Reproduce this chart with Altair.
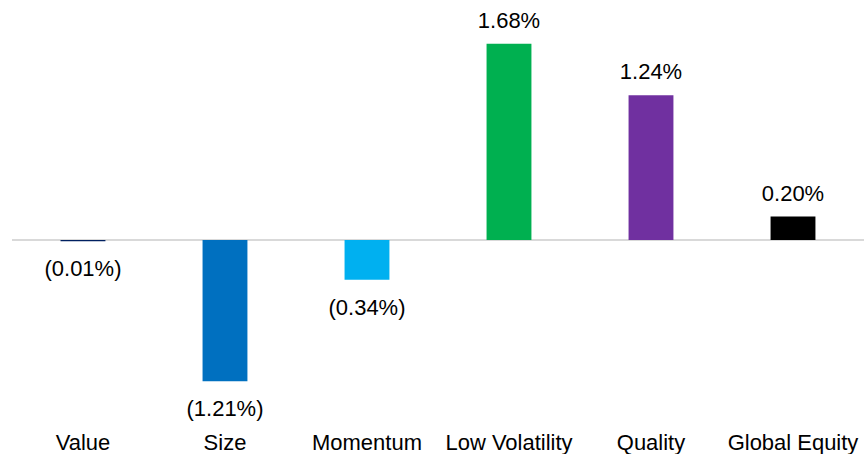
import altair as alt
import pandas as pd

# Factor returns (%)
factors = ["Value", "Size", "Momentum", "Low Volatility", "Quality", "Global Equity"]
returns = [-0.01, -1.21, -0.34, 1.68, 1.24, 0.20]
colors = ["#002060", "#0070C0", "#00B0F0", "#00B050", "#7030A0", "#000000"]

df = pd.DataFrame({"factor": factors, "ret": returns})

FONT = "Arial"
FS = 22
YDOM = [-1.54, 2.053]

x = alt.X(
    "factor:N",
    sort=factors,
    title=None,
    scale=alt.Scale(paddingInner=0.684, paddingOuter=0.342),
    axis=alt.Axis(
        domain=False,
        ticks=False,
        grid=False,
        labelAngle=0,
        labelFont=FONT,
        labelFontSize=FS,
        labelColor="#000000",
        labelPadding=13,
    ),
)
y = alt.Y(
    "ret:Q",
    title=None,
    scale=alt.Scale(domain=YDOM, nice=False, zero=False),
    # hidden axis that only reserves a narrow left margin
    axis=alt.Axis(labels=False, ticks=False, domain=False, grid=False,
                  minExtent=12, maxExtent=12),
)

base = alt.Chart(df).transform_calculate(
    lbl="datum.ret < 0 ? '(' + format(-datum.ret, '.2f') + '%)' : format(datum.ret, '.2f') + '%'",
)

zero = base.mark_rule(color="#d9d9d9", strokeWidth=1.5).encode(y=alt.datum(0))

bars = base.mark_bar().encode(
    x=x,
    y=y,
    y2=alt.datum(0),
    color=alt.Color("factor:N", scale=alt.Scale(domain=factors, range=colors), legend=None),
)

pos_labels = base.transform_filter("datum.ret >= 0").mark_text(
    font=FONT, fontSize=FS, color="#000000", baseline="alphabetic", dy=-16
).encode(x=x, y=y, text="lbl:N")

neg_labels = base.transform_filter("datum.ret < 0").mark_text(
    font=FONT, fontSize=FS, color="#000000", baseline="alphabetic", dy=35
).encode(x=x, y=y, text="lbl:N")

chart = alt.layer(zero, bars, pos_labels, neg_labels).properties(
    width=853,
    height=420,
    padding=0,
).configure_view(strokeWidth=0)

chart.save("out.html", embed_options={"renderer": "svg", "actions": False})
